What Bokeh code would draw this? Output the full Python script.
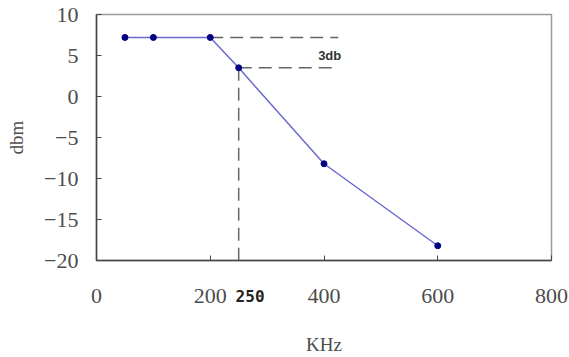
from bokeh.plotting import figure
from bokeh.models import FixedTicker, Range1d, Label, LinearAxis
from bokeh.embed import file_html
from bokeh.resources import INLINE

freq_khz = [50, 100, 200, 250, 400, 600]
level_dbm = [7.2, 7.2, 7.2, 3.5, -8.2, -18.2]
x_ticks = [0, 200, 400, 600, 800]
y_ticks = [-20, -15, -10, -5, 0, 5, 10]
ref_top = 7.2
ref_3db = 3.5
cutoff = 250
cutoff_label_pos = 270
dash_end = 425

FONT = "Liberation Serif"

p = figure(width=569, height=357, output_backend="svg", toolbar_location=None,
           x_range=Range1d(0, 800), y_range=Range1d(-20, 10),
           min_border_left=96, min_border_right=18, min_border_top=14, min_border_bottom=97)
p.background_fill_color = "white"
p.border_fill_color = "white"
p.outline_line_color = "#999999"
p.outline_line_width = 1.5
p.xgrid.visible = False
p.ygrid.visible = False

for ax in (p.xaxis[0], p.yaxis[0]):
    ax.axis_line_color = "#444444"
    ax.axis_line_width = 1.5
    ax.major_tick_in = 5
    ax.major_tick_out = 0
    ax.minor_tick_in = 0
    ax.minor_tick_out = 0
    ax.major_tick_line_color = "#444444"
    ax.major_label_text_font = FONT
    ax.major_label_text_font_size = "22px"
    ax.major_label_text_color = "#4d4d4d"
    ax.axis_label_text_font = FONT
    ax.axis_label_text_font_size = "19px"
    ax.axis_label_text_font_style = "normal"
    ax.axis_label_text_color = "#4d4d4d"

p.xaxis[0].ticker = FixedTicker(ticks=x_ticks)
p.yaxis[0].ticker = FixedTicker(ticks=y_ticks)
p.xaxis[0].major_label_standoff = 28
p.yaxis[0].major_label_standoff = 18
p.yaxis[0].axis_label = "dbm"
p.yaxis[0].axis_label_standoff = 14

# second (stacked) axis carrying the bold "250" marker and the x-axis title
ax2 = LinearAxis(ticker=FixedTicker(ticks=[cutoff_label_pos]),
                 major_label_overrides={cutoff_label_pos: str(cutoff)})
ax2.axis_line_color = None
ax2.major_tick_line_color = None
ax2.minor_tick_line_color = None
ax2.major_label_standoff = -22
ax2.major_label_text_font = "DejaVu Sans Mono"
ax2.major_label_text_font_style = "bold"
ax2.major_label_text_font_size = "16px"
ax2.major_label_text_color = "#222222"
ax2.axis_label = "KHz"
ax2.axis_label_standoff = 29
ax2.axis_label_text_font = FONT
ax2.axis_label_text_font_size = "19px"
ax2.axis_label_text_font_style = "normal"
ax2.axis_label_text_color = "#4d4d4d"
p.add_layout(ax2, "below")

# dashed guide lines
p.line([freq_khz[2], dash_end], [ref_top, ref_top], line_color="#666666", line_dash="13 7", line_width=1.5)
p.line([cutoff, dash_end], [ref_3db, ref_3db], line_color="#666666", line_dash="13 7", line_width=1.5)
p.line([cutoff, cutoff], [ref_3db, -20], line_color="#666666", line_dash="13 7", line_width=1.5)

p.line(freq_khz, level_dbm, line_color="#6a6ad0", line_width=1.5)
p.scatter(freq_khz, level_dbm, marker="circle", size=6, fill_color="#000080", line_color="#000080")

p.add_layout(Label(x=410, y=5.0, text="3db", text_font="Liberation Sans", text_font_style="bold",
                   text_font_size="13px", text_color="#333333", text_align="center", text_baseline="middle"))

open("out.html", "w").write(file_html(p, INLINE))
